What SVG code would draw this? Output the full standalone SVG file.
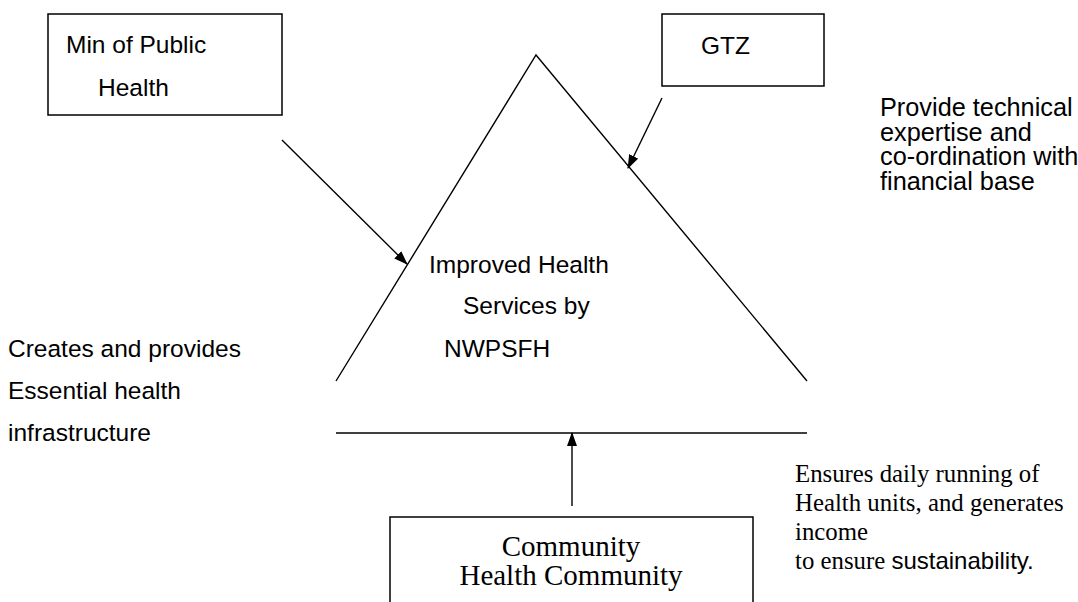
<svg xmlns="http://www.w3.org/2000/svg" width="1078" height="602" viewBox="0 0 1078 602">
<style>
.box{fill:#fff;stroke:#000;stroke-width:1.5}
.ln{fill:none;stroke:#000;stroke-width:1.4}
.sans{font-family:"Liberation Sans",Arial,sans-serif;font-size:24.5px;fill:#000}
.sans2{font-family:"Liberation Sans",Arial,sans-serif;font-size:25.3px;fill:#000}
.serif{font-family:"Liberation Serif","Times New Roman",serif;font-size:24.8px;fill:#000}
.big{font-family:"Liberation Serif","Times New Roman",serif;font-size:29px;fill:#000}
</style>
<defs>
<marker id="ah" markerWidth="14" markerHeight="10" refX="13" refY="5" orient="auto" markerUnits="userSpaceOnUse">
<path d="M0,0 L14,5 L0,10 Z" fill="#000"/>
</marker>
</defs>
<rect width="1078" height="602" fill="#fff"/>
<g id="triangle">
<path class="ln" d="M336,381 L536,55 L807,381"/>
<line class="ln" x1="336" y1="433" x2="807" y2="433"/>
<text class="sans" x="429" y="273">Improved Health</text>
<text class="sans" x="463" y="314">Services by</text>
<text class="sans" x="444" y="357">NWPSFH</text>
</g>
<g id="min-public-health">
<rect class="box" x="48" y="14" width="234" height="101"/>
<text class="sans" x="66" y="53">Min of Public</text>
<text class="sans" x="98" y="96">Health</text>
</g>
<g id="gtz">
<rect class="box" x="662" y="14" width="162" height="72"/>
<text class="sans" x="701" y="54">GTZ</text>
</g>
<g id="community">
<rect class="box" x="390" y="517" width="363" height="100"/>
<text class="big" x="571" y="556" text-anchor="middle">Community</text>
<text class="big" x="571" y="585" text-anchor="middle">Health Community</text>
</g>
<g id="label-left">
<text class="sans" x="8" y="357">Creates and provides</text>
<text class="sans" x="8" y="399">Essential health</text>
<text class="sans" x="8" y="441">infrastructure</text>
</g>
<g id="label-right">
<text class="sans2" x="880" y="116">Provide technical</text>
<text class="sans2" x="880" y="141">expertise and</text>
<text class="sans2" x="880" y="165">co-ordination with</text>
<text class="sans2" x="880" y="190">financial base</text>
</g>
<g id="label-bottom">
<text class="serif" x="795" y="482">Ensures daily running of</text>
<text class="serif" x="795" y="511">Health units, and generates</text>
<text class="serif" x="795" y="540">income</text>
<text class="serif" x="795" y="569">to ensure <tspan class="sans" style="font-size:24px">sustainability.</tspan></text>
</g>
<g id="connectors">
<line class="ln" x1="282" y1="140" x2="407" y2="264" marker-end="url(#ah)"/>
<line class="ln" x1="662" y1="98" x2="628" y2="168" marker-end="url(#ah)"/>
<line class="ln" x1="572" y1="506" x2="572" y2="433" marker-end="url(#ah)"/>
</g>
</svg>
